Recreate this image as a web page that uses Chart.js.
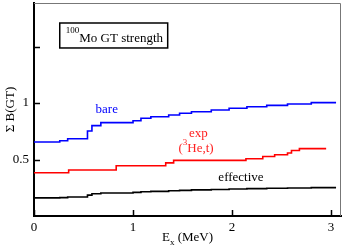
<!DOCTYPE html>
<html>
<head>
<meta charset="utf-8">
<script src="https://cdn.jsdelivr.net/npm/chart.js@4.4.1/dist/chart.umd.min.js"></script>
<style>
  html, body { margin: 0; padding: 0; background: #fff; }
  #wrap { width: 345px; height: 248px; }
</style>
</head>
<body>
<div id="wrap"><canvas id="myChart"></canvas></div>
<script>
// excitation energy (MeV) where each step starts, and running sum B(GT)
const bareE = [0, 0.26, 0.34, 0.54, 0.585, 0.675, 1.0, 1.08, 1.18, 1.36, 1.47, 1.59, 1.79, 1.97, 2.15, 2.35, 2.56, 2.80, 3.05]
const bareB = [0.655, 0.666, 0.684, 0.752, 0.800, 0.826, 0.843, 0.865, 0.879, 0.894, 0.909, 0.923, 0.938, 0.953, 0.967, 0.979, 0.991, 1.003, 1.003]

const effE = [0, 0.26, 0.34, 0.54, 0.585, 0.675, 1.0, 1.08, 1.18, 1.36, 1.47, 1.59, 1.79, 1.97, 2.15, 2.35, 2.56, 2.80, 3.05]
const effB = [0.160, 0.163, 0.168, 0.185, 0.197, 0.203, 0.209, 0.214, 0.218, 0.223, 0.227, 0.231, 0.235, 0.239, 0.242, 0.245, 0.248, 0.251, 0.251]

const expE = [0, 0.35, 0.83, 1.33, 1.41, 2.14, 2.31, 2.43, 2.56, 2.60, 2.68, 2.95]
const expB = [0.383, 0.407, 0.445, 0.470, 0.492, 0.506, 0.527, 0.542, 0.557, 0.580, 0.596, 0.596]

const xTicks = [0, 1, 2, 3]
const yTicks = [0.5, 1, 1.5]
const yLabels = ["0.5", "1", ""]

const serif = "'Liberation Serif', 'Times New Roman', serif"

function toPoints(xs, ys) {
  let pts = []
  for (let i = 0; i < xs.length; i++) {
    pts.push({ x: xs[i], y: ys[i] })
  }
  return pts
}

// text with a raised or lowered small part
function drawParts(ctx, parts, x, y) {
  let cx = x
  for (const p of parts) {
    ctx.font = p.size + "px " + serif
    ctx.fillText(p.t, cx, y + (p.dy || 0))
    cx += ctx.measureText(p.t).width
  }
}
function partsWidth(ctx, parts) {
  let w = 0
  for (const p of parts) {
    ctx.font = p.size + "px " + serif
    w += ctx.measureText(p.t).width
  }
  return w
}

function noPad(s) {
  s.paddingTop = 0
  s.paddingBottom = 0
  s.paddingLeft = 0
  s.paddingRight = 0
}

const decor = {
  id: "decor",
  afterDraw(chart) {
    const ctx = chart.ctx
    const xs = chart.scales.x
    const ys = chart.scales.y
    const area = chart.chartArea
    ctx.save()

    // top and right frame
    ctx.strokeStyle = "#777"
    ctx.lineWidth = 1
    ctx.beginPath()
    ctx.moveTo(area.left, area.top + 0.5)
    ctx.lineTo(area.right - 0.5, area.top + 0.5)
    ctx.lineTo(area.right - 0.5, area.bottom)
    ctx.stroke()

    // inward tick marks
    ctx.strokeStyle = "#000"
    ctx.lineWidth = 1.5
    ctx.beginPath()
    for (const v of yTicks) {
      const py = Math.round(ys.getPixelForValue(v)) + 0.5
      ctx.moveTo(area.left, py)
      ctx.lineTo(area.left + 6, py)
    }
    for (const v of xTicks) {
      const px = Math.round(xs.getPixelForValue(v)) + 0.5
      ctx.moveTo(px, area.bottom)
      ctx.lineTo(px, area.bottom - 6)
    }
    ctx.stroke()

    // title box
    const bx0 = xs.getPixelForValue(0.26), bx1 = xs.getPixelForValue(1.35)
    const by0 = ys.getPixelForValue(1.708), by1 = ys.getPixelForValue(1.487)
    ctx.lineWidth = 1.5
    ctx.strokeRect(bx0, by0, bx1 - bx0, by1 - by0)
    ctx.fillStyle = "#000"
    ctx.textBaseline = "alphabetic"
    ctx.textAlign = "left"
    drawParts(ctx, [
      { t: "100", size: 9, dy: -9 },
      { t: "Mo GT strength", size: 13 }
    ], bx0 + 6, ys.getPixelForValue(1.544))

    // curve labels
    ctx.font = "13px " + serif
    ctx.textAlign = "center"
    ctx.fillStyle = "#0000ff"
    ctx.fillText("bare", xs.getPixelForValue(0.735), ys.getPixelForValue(0.912))
    ctx.fillStyle = "#000"
    ctx.fillText("effective", xs.getPixelForValue(2.09), ys.getPixelForValue(0.312))
    ctx.fillStyle = "#ff2020"
    ctx.fillText("exp", xs.getPixelForValue(1.66), ys.getPixelForValue(0.696))
    ctx.textAlign = "left"
    const hp = [
      { t: "(", size: 13 },
      { t: "3", size: 9, dy: -7 },
      { t: "He,t)", size: 13 }
    ]
    const hx = xs.getPixelForValue(1.636) - partsWidth(ctx, hp) / 2
    drawParts(ctx, hp, hx, ys.getPixelForValue(0.569))

    // axis titles
    ctx.fillStyle = "#000"
    const xp = [
      { t: "E", size: 13 },
      { t: "x", size: 9, dy: 4 },
      { t: " (MeV)", size: 13 }
    ]
    const mid = (area.left + area.right) / 2
    drawParts(ctx, xp, mid - partsWidth(ctx, xp) / 2, 241)

    ctx.translate(14, (area.top + area.bottom) / 2)
    ctx.rotate(-Math.PI / 2)
    ctx.font = "13px " + serif
    ctx.textAlign = "center"
    ctx.fillText("\u03A3 B(GT)", 0, 0)
    ctx.restore()
  }
}

const ctxChart = document.getElementById("myChart")

new Chart(ctxChart, {
  type: "scatter",
  data: {
    datasets: [{
      label: "bare",
      data: toPoints(bareE, bareB),
      borderColor: "#0000ff",
      borderWidth: 1.6,
      showLine: true,
      stepped: true,
      pointRadius: 0
    }, {
      label: "exp",
      data: toPoints(expE, expB),
      borderColor: "#ff0000",
      borderWidth: 1.6,
      showLine: true,
      stepped: true,
      pointRadius: 0
    }, {
      label: "effective",
      data: toPoints(effE, effB),
      borderColor: "#000000",
      borderWidth: 1.6,
      showLine: true,
      stepped: true,
      pointRadius: 0
    }]
  },
  options: {
    responsive: true,
    maintainAspectRatio: false,
    animation: false,
    layout: {
      padding: { top: 3, right: 4, left: 0, bottom: 0 }
    },
    plugins: {
      legend: { display: false },
      tooltip: { enabled: false }
    },
    scales: {
      x: {
        type: "linear",
        min: 0,
        max: 3.1,
        afterFit: function (s) { s.height = 32; noPad(s) },
        afterBuildTicks: function (s) { s.ticks = xTicks.map(v => ({ value: v })) },
        grid: { drawOnChartArea: false, drawTicks: false },
        border: { color: "#000", width: 2 },
        ticks: {
          padding: 4,
          color: "#000",
          maxRotation: 0,
          font: { family: serif, size: 13 }
        }
      },
      y: {
        type: "linear",
        min: 0,
        max: 1.885,
        afterFit: function (s) { s.width = 34; noPad(s) },
        afterBuildTicks: function (s) { s.ticks = yTicks.map(v => ({ value: v })) },
        grid: { drawOnChartArea: false, drawTicks: false },
        border: { color: "#000", width: 2 },
        ticks: {
          padding: 5,
          color: "#000",
          font: { family: serif, size: 13 },
          callback: function (value, index) { return yLabels[index] }
        }
      }
    }
  },
  plugins: [decor]
})
</script>
</body>
</html>
